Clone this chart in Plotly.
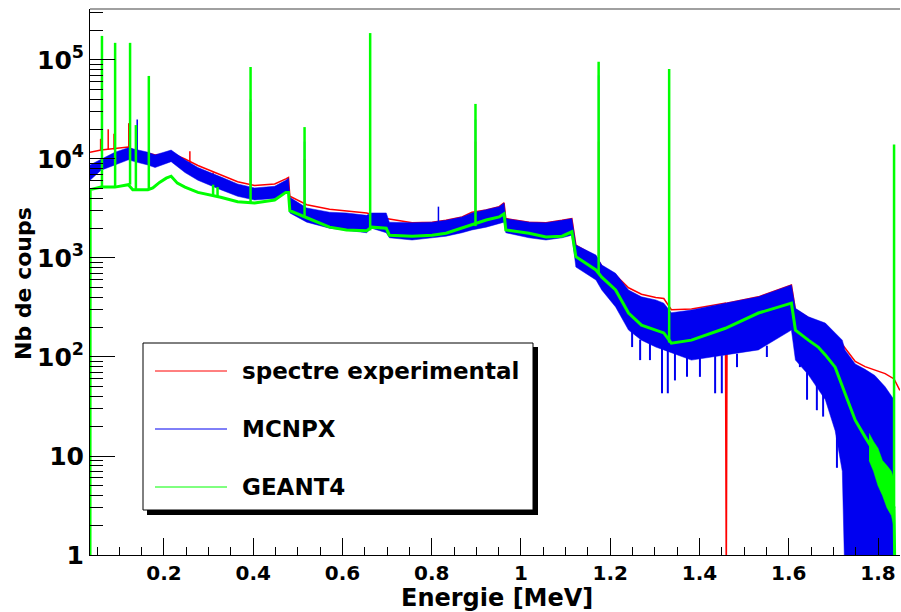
import plotly.graph_objects as go

# ---------------- data ----------------
# Experimental spectrum (continuum)
red_E = [0.0342, 0.059, 0.12, 0.142, 0.164, 0.18, 0.216, 0.247, 0.276, 0.327, 0.365, 0.403,
         0.448, 0.473, 0.479, 0.482, 0.52, 0.571, 0.609, 0.654, 0.698, 0.756, 0.801, 0.832,
         0.868, 0.89, 0.922, 0.951, 0.962, 0.966, 1.018, 1.056, 1.092, 1.114, 1.123, 1.168,
         1.181, 1.212, 1.241, 1.27, 1.302, 1.32, 1.337, 1.382, 1.458, 1.460, 1.462, 1.532,
         1.606, 1.615, 1.644, 1.682, 1.704, 1.726, 1.749, 1.771, 1.793, 1.816, 1.836, 1.849]
red_v = [1.17e4, 1.23e4, 1.32e4, 1.15e4, 1.15e4, 1.1e4, 1.15e4, 1.0e4, 8.6e3, 7.0e3, 5.9e3, 5.4e3,
         5.6e3, 6.3e3, 6.5e3, 4.2e3, 3.45e3, 3.1e3, 3.0e3, 2.85e3, 2.5e3, 2.27e3, 2.3e3, 2.4e3,
         2.6e3, 2.9e3, 3.05e3, 3.3e3, 3.6e3, 2.5e3, 2.3e3, 2.27e3, 2.4e3, 2.5e3, 1.35e3, 1.03e3,
         830, 670, 500, 430, 400, 390, 300, 305, 350, 0.5, 350, 405,
         535, 300, 250, 210, 167, 125, 90, 80, 74, 68, 60, 46]
# Experimental peaks
red_peak_E = [0.058, 0.075, 0.088, 0.121, 0.166, 0.258, 0.31, 0.394, 0.515, 0.662, 0.898, 1.174, 1.332, 1.836]
red_peak_base = [1.2e4, 1.25e4, 1.25e4, 1.3e4, 1.15e4, 8.5e3, 6.6e3, 5.1e3, 3.3e3, 2.6e3, 2.9e3, 1.05e3, 300, 66]
red_peak_top = [1.6e4, 2.0e4, 1.8e4, 2.3e4, 3.0e4, 1.2e4, 7.3e3, 3.0e4, 1.0e4, 8e4, 1.5e4, 1.5e4, 2.2e4, 3.5e3]

# MCNPX (noisy band: lower / upper envelope)
blue_E = [0.0342, 0.059, 0.09, 0.12, 0.142, 0.164, 0.18, 0.216, 0.247, 0.276, 0.327, 0.365, 0.403,
          0.448, 0.473, 0.479, 0.482, 0.52, 0.571, 0.609, 0.654, 0.665, 0.698, 0.705, 0.756, 0.801,
          0.832, 0.868, 0.89, 0.922, 0.951, 0.962, 0.966, 1.018, 1.056, 1.092, 1.114, 1.123, 1.168,
          1.181, 1.212, 1.241, 1.27, 1.302, 1.32, 1.337, 1.382, 1.458, 1.532, 1.606, 1.615, 1.644,
          1.682, 1.704, 1.72, 1.726, 1.749, 1.771, 1.793, 1.816, 1.827, 1.836]
blue_lo = [6.1e3, 7.7e3, 8.7e3, 9.8e3, 9.2e3, 8.7e3, 8.2e3, 9.4e3, 7.3e3, 6.1e3, 4.9e3, 4.2e3, 3.85e3,
           4.0e3, 4.6e3, 4.6e3, 2.85e3, 2.3e3, 2.0e3, 1.92e3, 1.8e3, 2.0e3, 1.8e3, 1.6e3, 1.52e3, 1.6e3,
           1.66e3, 1.8e3, 1.92e3, 2.05e3, 2.2e3, 2.3e3, 1.8e3, 1.6e3, 1.52e3, 1.6e3, 1.7e3, 810, 600,
           475, 320, 187, 148, 126, 118, 110, 93, 105, 118, 187, 93, 66,
           37, 18, 7, 0.5, 0.5, 0.5, 0.5, 0.5, 0.5, 0.5]
blue_hi = [8.7e3, 1.0e4, 1.17e4, 1.3e4, 1.23e4, 1.17e4, 1.1e4, 1.23e4, 9.8e3, 8.2e3, 6.6e3, 5.6e3, 5.1e3,
           5.3e3, 6.1e3, 6.4e3, 4.1e3, 3.2e3, 2.9e3, 2.85e3, 2.7e3, 2.85e3, 2.85e3, 2.3e3, 2.27e3, 2.3e3,
           2.4e3, 2.6e3, 2.85e3, 3.05e3, 3.3e3, 3.6e3, 2.5e3, 2.3e3, 2.27e3, 2.4e3, 2.5e3, 1.35e3, 1.07e3,
           850, 700, 475, 405, 377, 350, 280, 298, 350, 405, 535, 310, 255,
           220, 175, 148, 118, 85, 75, 65, 50, 43, 37]
blue_peak_E = [0.14, 0.166, 0.394, 0.515, 0.662, 0.815, 0.898, 1.174, 1.332, 1.836]
blue_peak_base = [1.0e4, 1.0e4, 4.5e3, 2.8e3, 2.3e3, 1.9e3, 2.4e3, 800, 200, 40]
blue_peak_top = [2.5e4, 4.0e4, 4.0e4, 1.5e4, 1.0e5, 3.3e3, 2.5e4, 7e4, 5e4, 8e3]
# MCNPX downward fluctuations (deepest visible dips)
blue_dip_E = [1.249, 1.267, 1.289, 1.316, 1.329, 1.345, 1.372, 1.401, 1.435, 1.45, 1.484,
              1.551, 1.625, 1.641, 1.663, 1.677, 1.708]
blue_dip_from = [190, 150, 140, 125, 118, 112, 100, 98, 102, 104, 108,
                 130, 90, 70, 55, 45, 20]
blue_dip_to = [126, 93, 93, 43, 43, 58, 63, 63, 43, 43, 79,
               100, 79, 37, 29, 25, 7.6]

# GEANT4 (continuum)
green_E = [0.0342, 0.0346, 0.059, 0.09, 0.12, 0.13, 0.164, 0.175, 0.19, 0.205, 0.216, 0.23, 0.247,
           0.276, 0.327, 0.365, 0.403, 0.448, 0.473, 0.479, 0.482, 0.5, 0.52, 0.571, 0.609, 0.654,
           0.665, 0.698, 0.705, 0.756, 0.801, 0.832, 0.868, 0.89, 0.922, 0.951, 0.962, 0.966, 1.018,
           1.056, 1.092, 1.114, 1.123, 1.168, 1.181, 1.212, 1.241, 1.27, 1.302, 1.32, 1.337, 1.382,
           1.458, 1.532, 1.606, 1.615, 1.644, 1.666, 1.682, 1.704, 1.726, 1.749, 1.771, 1.793,
           1.816, 1.83, 1.836, 1.838]
green_v = [0.5, 4.9e3, 5.2e3, 5.2e3, 5.5e3, 4.9e3, 4.9e3, 5.1e3, 5.8e3, 6.4e3, 6.7e3, 5.7e3, 5.2e3,
           4.6e3, 4.1e3, 3.7e3, 3.6e3, 3.85e3, 4.6e3, 4.6e3, 3.0e3, 2.8e3, 2.55e3, 2.05e3, 1.92e3, 1.88e3,
           2.05e3, 2.0e3, 1.7e3, 1.66e3, 1.7e3, 1.78e3, 2.0e3, 2.15e3, 2.42e3, 2.6e3, 2.8e3, 1.92e3, 1.78e3,
           1.63e3, 1.66e3, 1.84e3, 1.03e3, 757, 640, 475, 278, 210, 187, 175, 138, 148,
           195, 278, 350, 187, 148, 126, 105, 79, 43, 23, 15.6, 10.7,
           6.1, 3.6, 3, 0.5]
green_peak_E = [0.061, 0.0905, 0.124, 0.137, 0.166, 0.31, 0.32, 0.394, 0.515, 0.662, 0.898, 1.174, 1.332, 1.836]
green_peak_base = [5.2e3, 5.2e3, 5.5e3, 4.9e3, 4.9e3, 4.3e3, 4.2e3, 3.6e3, 2.6e3, 1.9e3, 2.1e3, 700, 140, 3]
green_peak_top = [1.75e5, 1.49e5, 1.49e5, 2.2e4, 6.9e4, 5.5e3, 5.2e3, 8.5e4, 2.1e4, 1.87e5, 3.6e4, 9.6e4, 8.1e4, 1.4e4]
# GEANT4 statistical spread in the tail
green_tail_E = [1.78, 1.79, 1.80, 1.81, 1.82, 1.83, 1.835]
green_tail_lo = [9, 7, 5, 4, 3, 2.5, 2]
green_tail_hi = [17, 14, 12, 9, 8, 7, 6]

# axis ticks
x_tick_vals = [0.2, 0.4, 0.6, 0.8, 1.0, 1.2, 1.4, 1.6, 1.8]
x_tick_text = ["0.2", "0.4", "0.6", "0.8", "1", "1.2", "1.4", "1.6", "1.8"]
x_minor_vals = [0.05 * k for k in range(1, 38)]
y_tick_vals = [1, 10, 100, 1e3, 1e4, 1e5]
y_tick_text = ["1", "10", "10<sup>2</sup>", "10<sup>3</sup>", "10<sup>4</sup>", "10<sup>5</sup>"]
y_minor_vals = [m * 10 ** d for d in range(0, 6) for m in range(2, 10)]

legend_labels = ["spectre experimental", "MCNPX", "GEANT4"]

RED = "rgb(255,0,0)"
BLUE = "rgb(0,0,240)"
GREEN = "rgb(0,255,0)"
FONT = "DejaVu Sans"


def segments(E, base, top):
    xs, ys = [], []
    for e, b, t in zip(E, base, top):
        xs += [e, e, None]
        ys += [b, t, None]
    return xs, ys


fig = go.Figure()

# experimental
fig.add_trace(go.Scatter(x=red_E, y=red_v, mode="lines", line=dict(color=RED, width=1.5), showlegend=False))
rx, ry = segments(red_peak_E, red_peak_base, red_peak_top)
fig.add_trace(go.Scatter(x=rx, y=ry, mode="lines", line=dict(color=RED, width=1.5), showlegend=False))

# MCNPX band
fig.add_trace(go.Scatter(x=blue_E, y=blue_lo, mode="lines", line=dict(color=BLUE, width=0.5), showlegend=False))
fig.add_trace(go.Scatter(x=blue_E, y=blue_hi, mode="lines", fill="tonexty", fillcolor=BLUE,
                         line=dict(color=BLUE, width=0.5), showlegend=False))
bx, by = segments(blue_peak_E, blue_peak_base, blue_peak_top)
fig.add_trace(go.Scatter(x=bx, y=by, mode="lines", line=dict(color=BLUE, width=1.5), showlegend=False))
dx, dy = segments(blue_dip_E, blue_dip_from, blue_dip_to)
fig.add_trace(go.Scatter(x=dx, y=dy, mode="lines", line=dict(color=BLUE, width=2), showlegend=False))

# GEANT4
fig.add_trace(go.Scatter(x=green_tail_E, y=green_tail_lo, mode="lines", line=dict(color=GREEN, width=0.5), showlegend=False))
fig.add_trace(go.Scatter(x=green_tail_E, y=green_tail_hi, mode="lines", fill="tonexty", fillcolor=GREEN,
                         line=dict(color=GREEN, width=0.5), showlegend=False))
fig.add_trace(go.Scatter(x=green_E, y=green_v, mode="lines", line=dict(color=GREEN, width=3), showlegend=False))
gx, gy = segments(green_peak_E, green_peak_base, green_peak_top)
fig.add_trace(go.Scatter(x=gx, y=gy, mode="lines", line=dict(color=GREEN, width=2.5), showlegend=False))

# ---------------- layout ----------------
W, H = 901, 612
L, R, T, B = 90, 1, 9, 57
pw, ph = W - L - R, H - T - B


def px(xp):
    return (xp - L) / pw


def py(yp):
    return (H - B - yp) / ph


fig.update_layout(
    width=W, height=H,
    margin=dict(l=L, r=R, t=T, b=B),
    paper_bgcolor="white", plot_bgcolor="white",
    showlegend=False,
    xaxis=dict(range=[0.0342, 1.8493], showline=True, linecolor="black", linewidth=1,
               showgrid=False, zeroline=False, ticks="inside", ticklen=17, tickcolor="black",
               tickmode="array", tickvals=x_tick_vals, ticktext=x_tick_text,
               tickfont=dict(family=FONT, size=20, color="black", weight="bold"),
               minor=dict(ticks="inside", ticklen=8, tickcolor="black", tickmode="array",
                          tickvals=x_minor_vals, showgrid=False)),
    yaxis=dict(type="log", range=[0, 5.515], showline=True, linecolor="black", linewidth=1,
               showgrid=False, zeroline=False, ticks="inside", ticklen=25, tickcolor="black",
               tickmode="array", tickvals=y_tick_vals, ticktext=y_tick_text,
               tickfont=dict(family=FONT, size=25, color="black", weight="bold"),
               minor=dict(ticks="inside", ticklen=13, tickcolor="black", tickmode="array",
                          tickvals=y_minor_vals, showgrid=False)),
)

shapes = []
# top frame line
shapes.append(dict(type="line", xref="paper", yref="paper", x0=0, x1=1, y0=1, y1=1,
                   line=dict(color="rgb(128,128,128)", width=1.5)))
# legend box with shadow
shapes.append(dict(type="rect", xref="paper", yref="paper", x0=px(147), x1=px(538), y0=py(515), y1=py(347),
                   fillcolor="black", line=dict(width=0)))
shapes.append(dict(type="rect", xref="paper", yref="paper", x0=px(143), x1=px(533), y0=py(510), y1=py(343),
                   fillcolor="white", line=dict(color="black", width=1)))
row_y = [371, 429, 487]
for yy, col in zip(row_y, [RED, BLUE, GREEN]):
    shapes.append(dict(type="line", xref="paper", yref="paper", x0=px(155), x1=px(227), y0=py(yy), y1=py(yy),
                       line=dict(color=col, width=1)))
fig.update_layout(shapes=shapes)

annotations = []
for yy, lab in zip(row_y, legend_labels):
    annotations.append(dict(xref="paper", yref="paper", x=px(240), y=py(yy), text=lab, showarrow=False,
                            xanchor="left", yanchor="middle",
                            font=dict(family=FONT, size=23, color="black", weight="bold")))
annotations.append(dict(xref="paper", yref="paper", x=px(497), y=py(598), text="Energie [MeV]", showarrow=False,
                        xanchor="center", yanchor="middle",
                        font=dict(family=FONT, size=24, color="black", weight="bold")))
annotations.append(dict(xref="paper", yref="paper", x=px(23), y=py(284), text="Nb de coups", showarrow=False,
                        textangle=-90, xanchor="center", yanchor="middle",
                        font=dict(family=FONT, size=22, color="black", weight="bold")))
fig.update_layout(annotations=annotations)

fig.write_html("out.html", config={"displayModeBar": False},
               post_script="document.body.style.margin='0px';")
